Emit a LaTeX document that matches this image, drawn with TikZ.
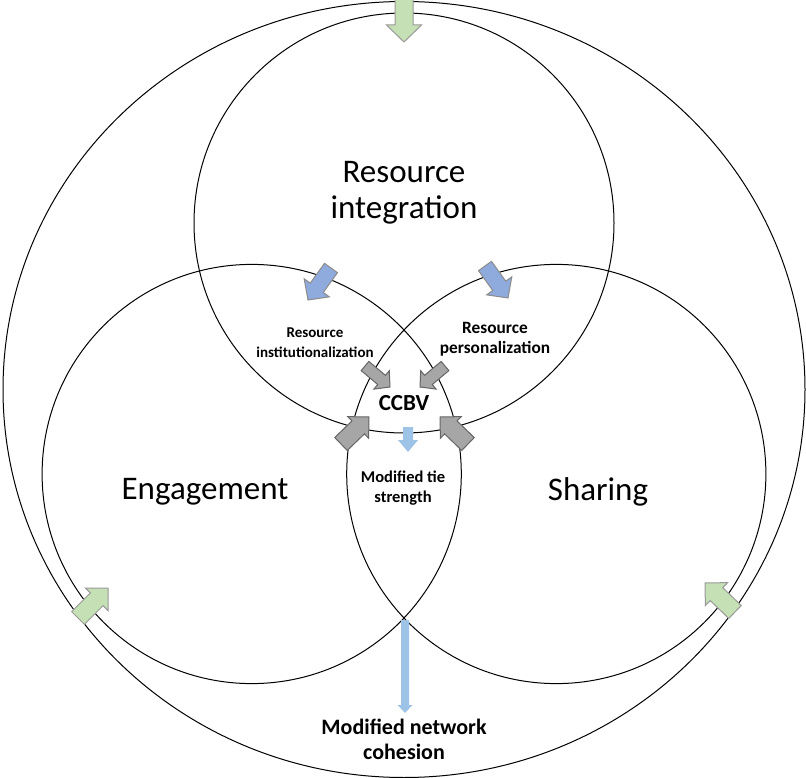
\documentclass[tikz,border=0pt]{standalone}
\usepackage{fontspec}
\setmainfont{Carlito}
\usetikzlibrary{calc}
\definecolor{agreen}{HTML}{C5E0B4}
\definecolor{ablue}{HTML}{8FAADC}
\definecolor{agray}{HTML}{A6A6A6}
\definecolor{alblue}{HTML}{9DC3E6}
\newcommand\bArrow[6]{%
  \coordinate (bT) at #2; \coordinate (bP) at #3;
  \coordinate (bH) at ($(bP)!#6!(bT)$);
  \path[#1] ($(bT)!#4!90:(bP)$) -- ($(bH)!#4!-90:(bT)$) -- ($(bH)!#5!-90:(bT)$) -- (bP)
    -- ($(bH)!#5!90:(bT)$) -- ($(bH)!#4!90:(bT)$) -- ($(bT)!#4!-90:(bP)$) -- cycle;}
\tikzset{
  ring/.style={draw=black, line width=1pt},
  greenarr/.style={fill=agreen, draw=gray!80, line width=1pt},
  bluearr/.style={fill=ablue, draw=gray!90, line width=1pt},
  grayarr/.style={fill=agray, draw=gray!120, line width=1pt},
  lbluearr/.style={fill=alblue},
  biglabel/.style={align=center, font=\fontsize{33}{36}\selectfont},
  smalllabel/.style={align=center, font=\bfseries\fontsize{15}{20}\selectfont},
}
\begin{document}
\begin{tikzpicture}[x=1pt, y=-1pt]
\useasboundingbox (0,0) rectangle (806,778);
% circles
\draw[ring] (404,389.5) ellipse [x radius=401pt, y radius=388pt];
\draw[ring] (404,223) circle [radius=210pt];
\draw[ring] (251.7,474) circle [radius=209.6pt];
\draw[ring] (556.3,474) circle [radius=209.6pt];
% green arrows
\bArrow{greenarr}{(404,-2)}{(404,42)}{9pt}{17.5pt}{17pt}
\bArrow{greenarr}{(78,618)}{(108,588)}{9pt}{16pt}{16pt}
\bArrow{greenarr}{(735,612)}{(705,583)}{9pt}{16pt}{16pt}
% blue arrows
\bArrow{bluearr}{(331,268)}{(308,300)}{8pt}{15.5pt}{15pt}
\bArrow{bluearr}{(485,266)}{(508,298)}{8pt}{15.5pt}{15pt}
% gray small
\bArrow{grayarr}{(365,366)}{(390,387)}{6pt}{12pt}{11pt}
\bArrow{grayarr}{(445,366)}{(420,387)}{6pt}{12pt}{11pt}
% gray big
\bArrow{grayarr}{(341,444)}{(369,417)}{9pt}{15pt}{15pt}
\bArrow{grayarr}{(468,444)}{(440,417)}{9pt}{15pt}{15pt}
% light blue
\bArrow{lbluearr}{(408,427)}{(408,452)}{5pt}{10pt}{12pt}
\bArrow{lbluearr}{(405,620)}{(405,713)}{4pt}{7.5pt}{8pt}
% labels
\node[biglabel] (ri) at (404,193) {Resource\\integration};
\node[biglabel] (eng) at (205,492) {Engagement};
\node[biglabel] (sha) at (598,492) {Sharing};
\node[smalllabel] (rinst) at (315,343) {Resource\\institutionalization};
\node[smalllabel, font=\bfseries\fontsize{17.3}{20.5}\selectfont] (rpers) at (495,339) {Resource\\personalization};
\node[font=\bfseries\fontsize{23}{26}\selectfont] (ccbv) at (404,403) {CCBV};
\node[smalllabel, font=\bfseries\fontsize{16.5}{20}\selectfont] (mts) at (403,488) {Modified tie\\strength};
\node[align=center, font=\bfseries\fontsize{22}{25}\selectfont] (mnc) at (404,739) {Modified network\\cohesion};
\end{tikzpicture}
\end{document}
